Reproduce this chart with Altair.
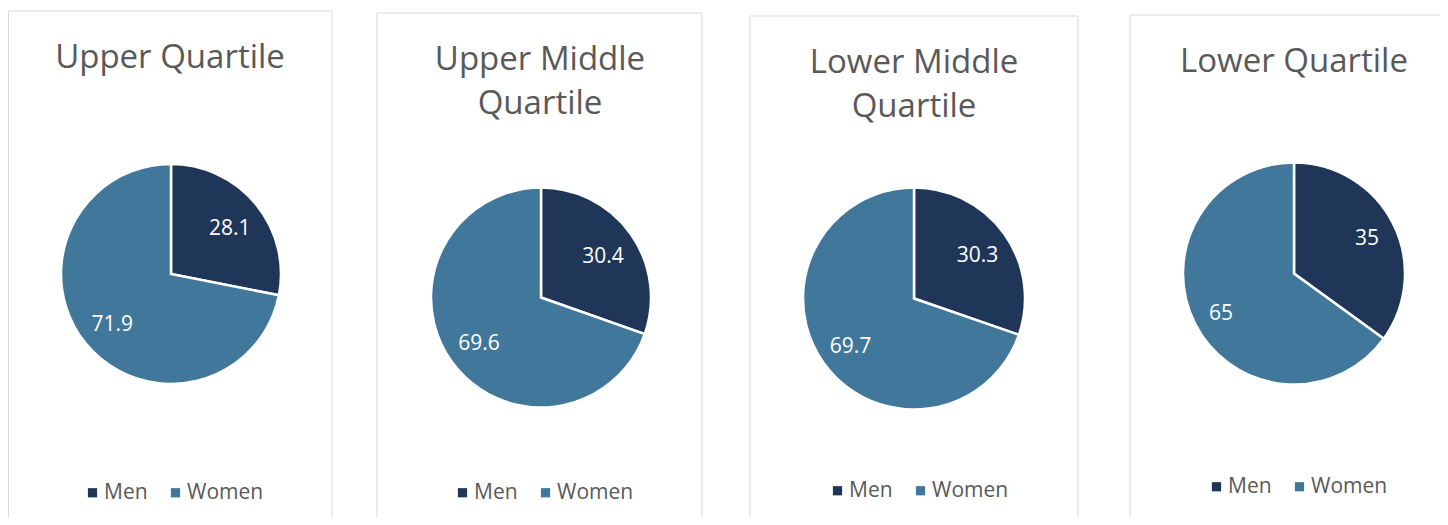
import altair as alt
import pandas as pd

# ---- data ----
panel_titles = [["Upper Quartile"], ["Upper Middle", "Quartile"], ["Lower Middle", "Quartile"], ["Lower Quartile"]]
genders = ["Men", "Women"]
men = [28.1, 30.4, 30.3, 35]
women = [71.9, 69.6, 69.7, 65]
colors = ["#1f3659", "#41779a"]

# ---- layout / style (pixels, per panel) ----
view_w = [346, 372, 378, 336]
view_h = 509
border = [(0.5, 324, 3, 540), (23, 348, 5, 540), (24, 352, 8, 540), (26, 420, 7, 514)]
center = [(163, 266), (187, 289.5), (188, 290.5), (190, 265.5)]
radius = [110, 110, 111, 111]
label_radius = [76, 76, 78, 82]
title_pos = [(162, 60), (186, 62), (188, 65), (190, 64)]
legend_pos = [(74, 474), (98, 474), (101, 472), (102, 468)]

FONT = "Open Sans"
GREY = "#595959"


def fmt(v):
    return f"{v:g}"


def panel(i):
    df = pd.DataFrame({
        "Gender": genders,
        "Value": [men[i], women[i]],
        "Label": [fmt(men[i]), fmt(women[i])],
        "Order": [0, 1],
    })
    cx, cy = center[i]
    bx1, bx2, by1, by2 = border[i]
    frame = alt.Chart(pd.DataFrame({"k": [0]})).mark_rect(
        fill="white", stroke="#d9d9d9", strokeWidth=1, clip=True
    ).encode(x=alt.value(bx1), x2=alt.value(bx2), y=alt.value(by1), y2=alt.value(by2))

    tx, ty = title_pos[i]
    lines = panel_titles[i]
    title = alt.Chart(pd.DataFrame({"k": [0]})).mark_text(
        font=FONT, fontSize=33, color=GREY, align="center", baseline="alphabetic", lineHeight=44
    ).encode(x=alt.value(tx), y=alt.value(ty), text=alt.value(lines if len(lines) > 1 else lines[0]))

    lx, ly = legend_pos[i]
    base = alt.Chart(df)
    pie = base.mark_arc(outerRadius=radius[i], stroke="white", strokeWidth=2.5).encode(
        theta=alt.Theta("Value:Q", stack=True),
        color=alt.Color(
            "Gender:N",
            scale=alt.Scale(domain=genders, range=colors),
            legend=alt.Legend(
                orient="none", legendX=lx, legendY=ly, direction="horizontal", title=None,
                symbolType="square", symbolSize=85, symbolStrokeWidth=0,
                labelFont=FONT, labelFontSize=21, labelColor=GREY,
                labelOffset=1, columnPadding=17,
            ),
        ),
        order=alt.Order("Order:Q"),
        x=alt.value(cx),
        y=alt.value(cy),
    )
    labels = base.mark_text(radius=label_radius[i], font=FONT, fontSize=21, color="white", dy=3).encode(
        theta=alt.Theta("Value:Q", stack=True),
        text="Label:N",
        order=alt.Order("Order:Q"),
        x=alt.value(cx),
        y=alt.value(cy),
    )
    return alt.layer(frame, title, pie, labels).properties(width=view_w[i], height=view_h)


chart = alt.hconcat(*[panel(i) for i in range(4)], spacing=0).resolve_scale(
    color="independent", theta="independent"
).resolve_legend(color="independent").properties(
    padding=0, background="white"
).configure_view(stroke="transparent", strokeWidth=0)

chart.save("out.html", embed_options={"renderer": "svg", "actions": False})
